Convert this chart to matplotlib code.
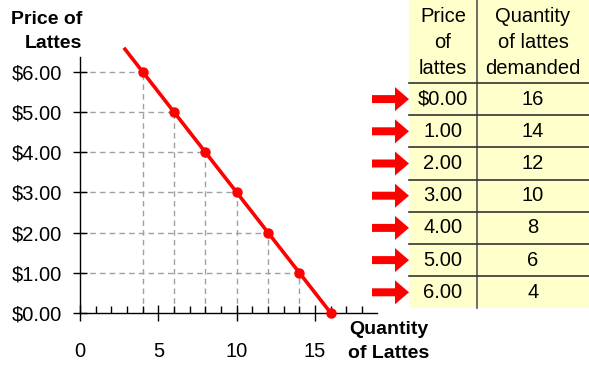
import matplotlib
matplotlib.use("Agg")
import matplotlib.pyplot as plt
from matplotlib.patches import FancyArrow, Rectangle

plt.rcParams['font.family'] = ['Liberation Sans', 'DejaVu Sans']

# demand schedule for lattes
prices = [0.0, 1.0, 2.0, 3.0, 4.0, 5.0, 6.0]
quantities = [16, 14, 12, 10, 8, 6, 4]
price_labels = ['$0.00', '1.00', '2.00', '3.00', '4.00', '5.00', '6.00']
yticks = [0, 1, 2, 3, 4, 5, 6]
ytick_labels = ['$0.00', '$1.00', '$2.00', '$3.00', '$4.00', '$5.00', '$6.00']
xticks = [0, 5, 10, 15]
line_start_q = 2.8  # demand line drawn a little past the first point

W, H = 589, 367
fig = plt.figure(figsize=(W / 100, H / 100), dpi=100)

# main plot area in pixel terms
x0, x1 = 80, 377
y0, y1 = 313, 57
ax = fig.add_axes([x0 / W, 1 - y0 / H, (x1 - x0) / W, (y0 - y1) / H])
ax.set_xlim(0, 18.95)
ax.set_ylim(0, 6.37)
ax.patch.set_alpha(0)
for s in ['top', 'right']:
    ax.spines[s].set_visible(False)
for s in ['left', 'bottom']:
    ax.spines[s].set_linewidth(1.0)
    ax.spines[s].set_clip_on(False)

# dashed guides from each point back to the axes
for q, p in zip(quantities, prices):
    if p > 0:
        ax.plot([0, q], [p, p], color='#a0a0a0', lw=1, ls=(0, (4, 3)), zorder=1)
        ax.plot([q, q], [0, p], color='#a0a0a0', lw=1, ls=(0, (4, 3)), zorder=1)

# demand curve: p = 8 - q/2
ax.plot([line_start_q, quantities[0]], [8 - line_start_q / 2, prices[0]],
        color='#ff0000', lw=2.6, solid_capstyle='butt', zorder=3, clip_on=False)
ax.plot(quantities, prices, 'o', color='#ff0000', ms=6.5, zorder=4, clip_on=False)

ax.set_yticks(yticks)
ax.set_yticklabels(ytick_labels, fontsize=14.5)
ax.set_xticks(xticks)
ax.set_xticklabels([str(t) for t in xticks], fontsize=14.5)
ax.set_xticks(range(0, 19), minor=True)
ax.tick_params(axis='y', direction='inout', length=10, width=1, pad=8)
ax.tick_params(axis='x', which='major', direction='inout', length=12, width=1, pad=15)
ax.tick_params(axis='x', which='minor', direction='in', length=5, width=1)

# axis titles
fig.text(47 / W, 1 - 19 / H, 'Price of', ha='center', va='center',
         fontsize=14, fontweight='bold')
fig.text(53 / W, 1 - 43 / H, 'Lattes', ha='center', va='center',
         fontsize=14, fontweight='bold')
fig.text(389 / W, 1 - 330 / H, 'Quantity', ha='center', va='center',
         fontsize=14, fontweight='bold')
fig.text(389 / W, 1 - 354 / H, 'of Lattes', ha='center', va='center',
         fontsize=14, fontweight='bold')

# table drawn in a pixel-coordinate overlay
tab = fig.add_axes([0, 0, 1, 1])
tab.set_xlim(0, W)
tab.set_ylim(H, 0)
tab.axis('off')
tab.patch.set_alpha(0)

tx0, tx_mid, tx1 = 409, 477, 589
header_bottom = 83
row_h = 32.2
n = len(prices)
tab.add_patch(Rectangle((tx0, 0), tx1 - tx0, header_bottom + n * row_h,
                        facecolor='#ffffcc', edgecolor='none', zorder=0))
tab.plot([tx_mid, tx_mid], [0, header_bottom + n * row_h], color='#555555', lw=1.2)
for i in range(n):
    yl = header_bottom + i * row_h
    tab.plot([tx0, tx1], [yl, yl], color='#333333', lw=1.2)

c1 = (tx0 + tx_mid) / 2
c2 = (tx_mid + tx1) / 2
for txt, yy in zip(['Price', 'of', 'lattes'], [16, 42, 68]):
    tab.text(c1, yy, txt, ha='center', va='center', fontsize=14.5)
for txt, yy in zip(['Quantity', 'of lattes', 'demanded'], [16, 42, 68]):
    tab.text(c2, yy, txt, ha='center', va='center', fontsize=14.5)

for i, (pl, q) in enumerate(zip(price_labels, quantities)):
    yc = header_bottom + (i + 0.5) * row_h
    tab.text(c1, yc, pl, ha='center', va='center', fontsize=14.5)
    tab.text(c2, yc, str(q), ha='center', va='center', fontsize=14.5)
    tab.add_patch(FancyArrow(372, yc, 37, 0, width=8, head_width=24,
                             head_length=14, length_includes_head=True,
                             color='#ff0000', lw=0))

fig.savefig('out.png', dpi=100)
